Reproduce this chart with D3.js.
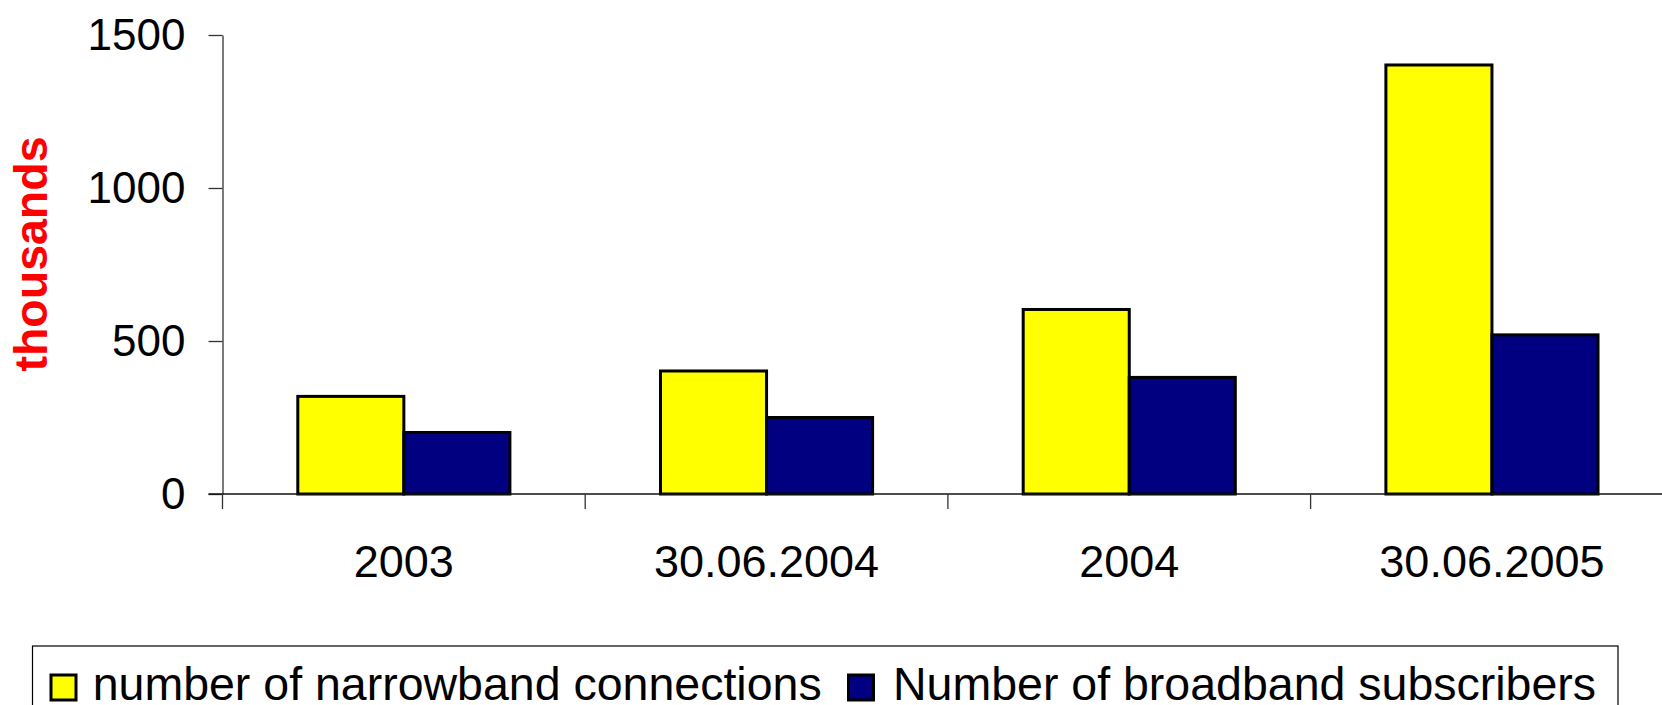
<!DOCTYPE html>
<html>
<head>
<meta charset="utf-8">
<script src="https://cdn.jsdelivr.net/npm/d3@7/dist/d3.min.js"></script>
<style>
  html, body { margin: 0; padding: 0; background: #fff; overflow: hidden; }
  svg { display: block; font-family: "Liberation Sans", Arial, sans-serif; }
</style>
</head>
<body>
<svg id="chart" width="1662" height="705"></svg>
<script>
const categories = ["2003", "30.06.2004", "2004", "30.06.2005"];
const seriesNames = ["number of narrowband connections", "Number of broadband subscribers"];
const narrowband = [319, 402, 603, 1402];
const broadband = [201, 250, 381, 520];
const seriesValues = [narrowband, broadband];
const seriesColors = ["#FFFF00", "#000080"];
const yTicks = [0, 500, 1000, 1500];
const yTitle = "thousands";

const svg = d3.select("#chart");
svg.append("rect").attr("width", 1662).attr("height", 705).attr("fill", "#fff");

const x0 = 222.5, step = 362.7;
const x = d3.scaleBand().domain(categories).range([x0, x0 + step * categories.length]).padding(0);
const xs = d3.scaleBand().domain(d3.range(seriesNames.length)).range([0, x.bandwidth()]).paddingInner(0).paddingOuter(0.71);
const y = d3.scaleLinear().domain([0, 1500]).range([494, 35]);

// bars
seriesNames.forEach((name, si) => {
  svg.append("g").selectAll("rect")
    .data(categories.map((c, i) => ({ c, v: seriesValues[si][i] })))
    .join("rect")
    .attr("x", d => x(d.c) + xs(si))
    .attr("y", d => y(d.v))
    .attr("width", xs.bandwidth())
    .attr("height", d => y(0) - y(d.v))
    .attr("fill", seriesColors[si])
    .attr("stroke", "#000")
    .attr("stroke-width", 3);
});

// y axis
const yAxis = d3.axisLeft(y).tickValues(yTicks).tickFormat(d3.format("d")).tickSize(14).tickPadding(23).tickSizeOuter(0);
const gy = svg.append("g").attr("transform", `translate(${x0},0)`).call(yAxis);
gy.select(".domain").attr("stroke", "#333").attr("stroke-width", 1.3);
gy.selectAll(".tick line").attr("stroke", "#333").attr("stroke-width", 1.3);
gy.selectAll(".tick text").attr("font-size", 44).attr("fill", "#000")
  .attr("font-family", "'Liberation Sans', Arial, sans-serif").attr("dy", "0.33em");

// x axis baseline
svg.append("line").attr("x1", x0 - 14).attr("x2", 1662).attr("y1", y(0)).attr("y2", y(0))
  .attr("stroke", "#111").attr("stroke-width", 1.6);
// category boundary ticks
svg.append("g").selectAll("line").data(categories).join("line")
  .attr("x1", d => x(d)).attr("x2", d => x(d))
  .attr("y1", y(0)).attr("y2", y(0) + 15)
  .attr("stroke", "#333").attr("stroke-width", 1.3);
// category labels
svg.append("g").selectAll("text").data(categories).join("text")
  .attr("x", d => x(d) + x.bandwidth() / 2)
  .attr("y", 577)
  .attr("text-anchor", "middle")
  .attr("font-size", 45)
  .attr("fill", "#000")
  .text(d => d);

// y title
svg.append("text")
  .attr("transform", "translate(46.5,254) rotate(-90)")
  .attr("text-anchor", "middle")
  .attr("font-size", 46.5)
  .attr("font-weight", "bold")
  .attr("fill", "#FF0000")
  .text(yTitle);

// legend
const lg = svg.append("g");
lg.append("rect").attr("x", 32.5).attr("y", 646).attr("width", 1585.5).attr("height", 80)
  .attr("fill", "#fff").attr("stroke", "#000").attr("stroke-width", 1.2);
const legendX = [51, 848.5];
const legendTextX = [92.7, 893];
seriesNames.forEach((name, i) => {
  lg.append("rect").attr("x", legendX[i]).attr("y", 675).attr("width", 25).attr("height", 25)
    .attr("fill", seriesColors[i]).attr("stroke", "#000").attr("stroke-width", 3);
  lg.append("text").attr("x", legendTextX[i]).attr("y", 700)
    .attr("font-size", 46.5).attr("fill", "#000").text(name);
});
</script>
</body>
</html>
